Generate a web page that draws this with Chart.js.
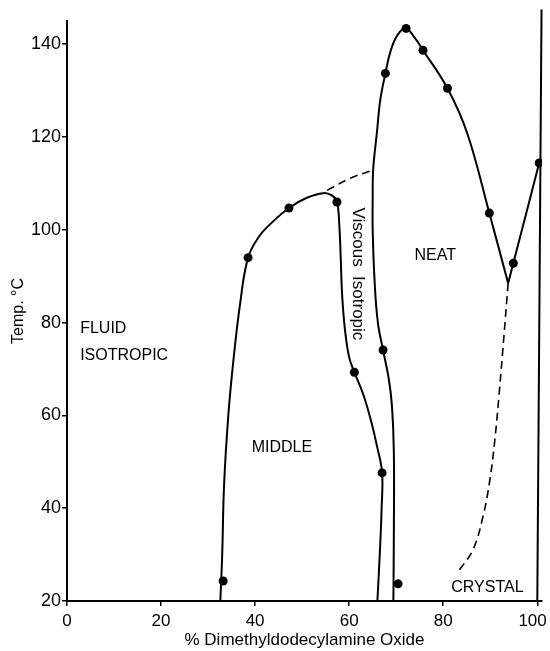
<!DOCTYPE html>
<html lang="en">
<head>
    <meta charset="UTF-8">
    <title>Phase diagram - Dimethyldodecylamine Oxide</title>
    <script src="https://cdn.jsdelivr.net/npm/chart.js"></script>
    <style>
        body {
            margin: 0;
            padding: 0;
            background: #fff;
        }
        canvas {
            display: block;
        }
    </style>
</head>
<body>
    <canvas id="phaseChart" width="550" height="651"></canvas>

    <script>
        // Measured points (% amine oxide, temperature in °C)
        const pointPct  = [33.2, 38.5, 47.2, 57.4, 61.1, 67.0, 70.4, 67.2, 67.7, 72.1, 75.7, 80.9, 89.8, 94.9, 100.4];
        const pointTemp = [24.3, 94.0, 104.7, 106.0, 69.3, 47.6, 23.7, 74.1, 133.7, 143.4, 138.7, 130.5, 103.6, 92.8, 114.4];

        // Phase boundaries as [pct, temp] pairs
        const middleBoundary = [
            [32.6, 20], [33.0, 30], [33.4, 45], [34.3, 60], [35.4, 72], [36.8, 84],
            [38.5, 94], [40.8, 98.5], [43.6, 101.6], [47.2, 104.7], [51, 106.9], [54.5, 107.9],
            [56.3, 107.4], [57.4, 106], [57.9, 101], [58.2, 94], [58.5, 86], [59.1, 78.5],
            [60.0, 72.5], [61.1, 69.3], [63.0, 64.5], [64.6, 59], [66.0, 53], [67.0, 47.6],
            [66.9, 40], [66.5, 30], [66.0, 20]
        ];
        const neatBoundary = [
            [69.4, 20], [69.5, 35], [69.5, 52], [69.1, 62], [68.4, 68], [67.2, 74.1],
            [66.1, 80], [65.4, 89], [65.0, 100], [65.0, 107], [65.1, 113], [65.9, 121],
            [66.6, 127.9], [67.7, 133.7], [68.8, 138.5], [70.3, 142], [72.1, 143.4], [74.0, 141.3],
            [75.7, 138.7], [80.9, 130.5], [85.1, 120.8], [89.8, 103.6], [93.8, 88.5]
        ];
        const crystalBoundary = [[93.8, 88.5], [94.9, 92.8], [97.5, 103], [100.4, 114.4]];
        const pureEdge = [[100.0, 20], [100.9, 147.5]];
        const dashedUpper = [[55.3, 108.5], [60.2, 111.1], [64.9, 112.8]];
        const dashedLower = [[93.8, 88.5], [92.9, 77], [92.0, 66], [91.0, 55], [89.9, 46], [88.4, 38], [86.3, 31], [83.3, 26.5]];

        const xTicks = [0, 20, 40, 60, 80, 100];
        const yTicks = [20, 40, 60, 80, 100, 120, 140];

        // Region names, placed in data units
        const regionLabels = [
            { text: 'FLUID', x: 2.8, y: 78.8, align: 'left' },
            { text: 'ISOTROPIC', x: 2.8, y: 72.8, align: 'left' },
            { text: 'MIDDLE', x: 45.7, y: 53, align: 'center' },
            { text: 'NEAT', x: 78.3, y: 94.5, align: 'center' },
            { text: 'CRYSTAL', x: 89.4, y: 22.8, align: 'center' },
            { text: 'Viscous  Isotropic', x: 61.9, y: 90.5, align: 'center', rotate: true }
        ];

        const toXY = pairs => pairs.map(p => ({ x: p[0], y: p[1] }));

        function curve(pairs, dashed) {
            return {
                data: toXY(pairs),
                showLine: true,
                pointRadius: 0,
                borderColor: '#000',
                borderWidth: dashed ? 1.6 : 2,
                borderDash: dashed ? [8, 5] : [],
                tension: 0.4,
                fill: false
            };
        }

        // Draw the region names
        const labelPlugin = {
            id: 'regionLabels',
            afterDatasetsDraw(chart) {
                const ctx = chart.ctx;
                const xs = chart.scales.x;
                const ys = chart.scales.y;
                ctx.save();
                ctx.fillStyle = '#000';
                ctx.textBaseline = 'middle';
                regionLabels.forEach(l => {
                    const px = xs.getPixelForValue(l.x);
                    const py = ys.getPixelForValue(l.y);
                    if (l.rotate) {
                        ctx.font = '17px "Liberation Sans"';
                        ctx.translate(px, py);
                        ctx.rotate(Math.PI / 2);
                        ctx.textAlign = 'center';
                        ctx.fillText(l.text, 0, 0);
                        ctx.setTransform(1, 0, 0, 1, 0, 0);
                    } else {
                        ctx.font = '16px "Liberation Sans"';
                        ctx.textAlign = l.align;
                        ctx.fillText(l.text, px, py);
                    }
                });
                ctx.restore();
            }
        };

        const ctx = document.getElementById('phaseChart').getContext('2d');
        new Chart(ctx, {
            type: 'scatter',
            data: {
                datasets: [
                    curve(middleBoundary, false),
                    curve(neatBoundary, false),
                    curve(crystalBoundary, false),
                    Object.assign(curve(pureEdge, false), { tension: 0, clip: false }),
                    curve(dashedUpper, true),
                    curve(dashedLower, true),
                    {
                        data: pointPct.map((v, i) => ({ x: v, y: pointTemp[i] })),
                        showLine: false,
                        pointRadius: 4.5,
                        pointBackgroundColor: '#000',
                        pointBorderColor: '#000',
                        pointBorderWidth: 0
                    }
                ]
            },
            options: {
                responsive: false,
                animation: false,
                layout: { padding: { top: 21, right: 8, left: 0, bottom: 0 } },
                plugins: {
                    legend: { display: false },
                    tooltip: { enabled: false }
                },
                scales: {
                    x: {
                        type: 'linear',
                        min: 0,
                        max: 101,
                        afterBuildTicks: s => { s.ticks = xTicks.map(v => ({ value: v })); },
                        afterFit: s => { s.height = 50; s.paddingRight = 0; s.paddingLeft = 0; },
                        border: { color: '#000', width: 2 },
                        grid: { drawOnChartArea: false, color: '#000', lineWidth: 1.5, tickLength: 5 },
                        ticks: {
                            color: '#000',
                            padding: 5,
                            maxRotation: 0,
                            // last label sits a little left of its tick, as in the original
                            callback: v => (v === 100 ? '100  ' : String(v)),
                            font: { family: '"Liberation Sans"', size: 17 }
                        },
                        title: {
                            display: true,
                            text: '% Dimethyldodecylamine Oxide',
                            color: '#000',
                            padding: { top: 0, bottom: 0 },
                            font: { family: '"Liberation Sans"', size: 17 }
                        }
                    },
                    y: {
                        type: 'linear',
                        min: 20,
                        max: 145,
                        afterBuildTicks: s => { s.ticks = yTicks.map(v => ({ value: v })); },
                        afterFit: s => { s.width = 67; },
                        border: { color: '#000', width: 2 },
                        grid: { drawOnChartArea: false, color: '#000', lineWidth: 1.5, tickLength: 5 },
                        ticks: {
                            color: '#000',
                            padding: 1,
                            font: { family: '"Liberation Sans"', size: 18 }
                        },
                        title: {
                            display: true,
                            text: 'Temp. °C',
                            color: '#000',
                            padding: { top: 9, bottom: 0 },
                            font: { family: '"Liberation Sans"', size: 16 }
                        }
                    }
                }
            },
            plugins: [labelPlugin]
        });
    </script>
</body>
</html>
